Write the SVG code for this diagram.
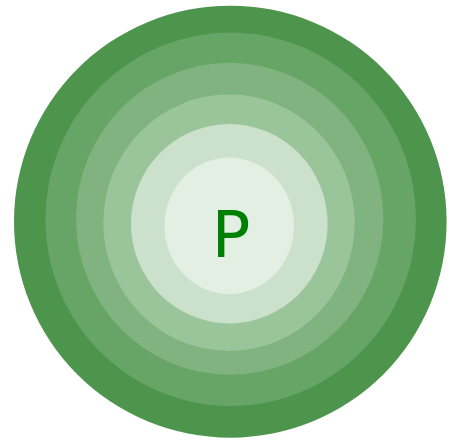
<svg xmlns="http://www.w3.org/2000/svg" width="449" height="444" viewBox="0 0 449 444">
<style>
.t{font-family:"DejaVu Sans",sans-serif;font-size:64px;fill:#008000;text-anchor:middle}
</style>
<rect width="449" height="444" fill="#ffffff"/>
<g id="rings">
<ellipse id="r1" cx="230.3" cy="221.7" rx="216.3" ry="216" fill="#4d944d"/>
<ellipse id="r2" cx="230.7" cy="219.3" rx="185.3" ry="186.7" fill="#66a566"/>
<ellipse id="r3" cx="229.7" cy="218.8" rx="153.7" ry="156" fill="#80b380"/>
<ellipse id="r4" cx="229" cy="222.7" rx="125.7" ry="128.3" fill="#9ac49a"/>
<ellipse id="r5" cx="229.3" cy="223.7" rx="98.3" ry="99.7" fill="#cce1cc"/>
<ellipse id="r6" cx="229.2" cy="225.8" rx="64.8" ry="68.2" fill="#e4efe4"/>
</g>
<g id="label"><text class="t" x="231" y="256.7">P</text></g>
</svg>
